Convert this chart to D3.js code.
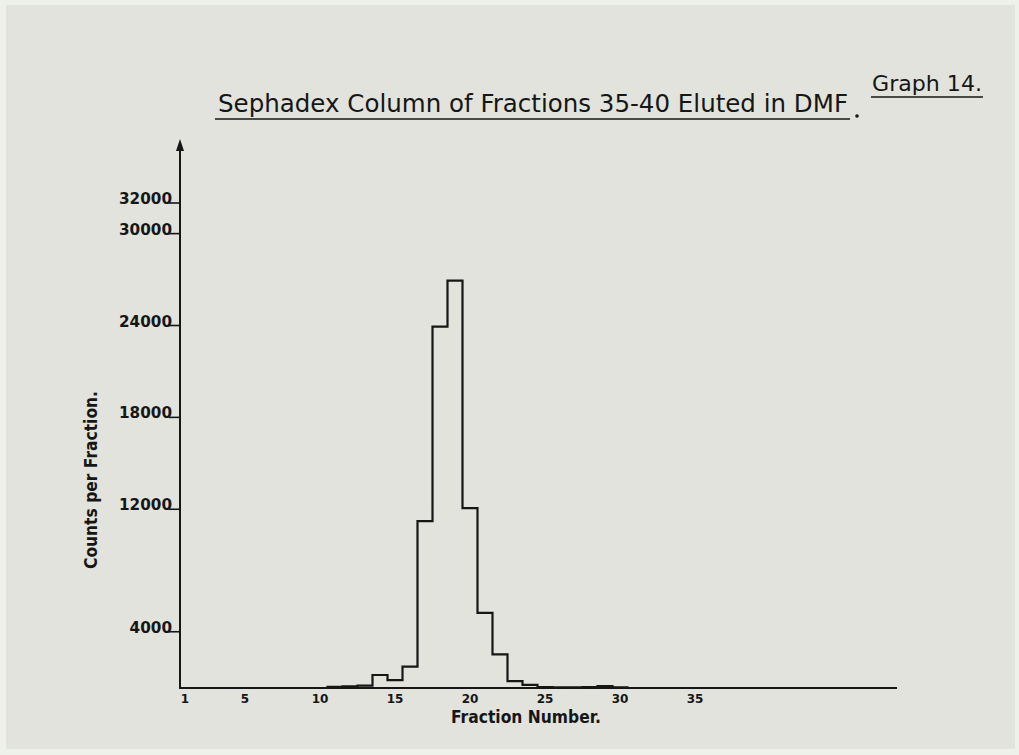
<!DOCTYPE html>
<html>
<head>
<meta charset="utf-8">
<script src="https://cdn.jsdelivr.net/npm/d3@7"></script>
<style>
  body { margin: 0; background: #e9eae5; }
  svg { display: block; }
</style>
</head>
<body>
<div id="container"></div>
<script>
let w = 1019;
let h = 755;

// DATA
let fractions = [11, 12, 13, 14, 15, 16, 17, 18, 19, 20, 21, 22, 23, 24, 25, 26, 27, 28, 29, 30];
let counts = [80, 100, 150, 850, 520, 1400, 10900, 23600, 26600, 11750, 4900, 2200, 450, 200, 60, 50, 40, 60, 120, 50];
let yTicks = [4000, 12000, 18000, 24000, 30000, 32000];
let xTicks = [1, 5, 10, 15, 20, 25, 30, 35];

let viz = d3.select("#container").append("svg")
    .attr("width", w)
    .attr("height", h)
;

// paper
viz.append("rect")
  .attr("x", 0).attr("y", 0)
  .attr("width", w).attr("height", h)
  .attr("fill", "#eef0ea");
viz.append("rect")
  .attr("x", 6).attr("y", 5)
  .attr("width", w - 10).attr("height", h - 11)
  .attr("fill", "#e1e3dc");

// SCALES
let xScale = d3.scaleLinear().domain([1, 35]).range([185, 695]);
let yScale = d3.scaleLinear().domain([0, 32000]).range([688, 198]);

let ink = "#161616";

// axes
viz.append("line")
  .attr("x1", 180).attr("x2", 897)
  .attr("y1", yScale(0)).attr("y2", yScale(0))
  .attr("stroke", ink).attr("stroke-width", 2);
viz.append("line")
  .attr("x1", 180).attr("x2", 180)
  .attr("y1", yScale(0) + 1).attr("y2", 146)
  .attr("stroke", ink).attr("stroke-width", 2);
viz.append("path")
  .attr("d", "M180,139 L176,151 L184,151 Z")
  .attr("fill", ink);

// y tick labels
let yt = viz.selectAll(".ytick").data(yTicks).enter()
  .append("g")
    .attr("class", "ytick")
    .attr("transform", function(d){ return "translate(0," + yScale(d) + ")"; });
yt.append("text")
  .text(function(d){ return d; })
  .attr("x", 172)
  .attr("y", 6)
  .attr("text-anchor", "end")
  .style("font-family", "DejaVu Sans")
  .style("font-weight", "bold")
  .style("font-size", "15px")
  .attr("lengthAdjust", "spacingAndGlyphs")
  .attr("textLength", function(d){ return String(d).length * 10.6; })
  .attr("fill", ink);
yt.append("line")
  .attr("x1", 169).attr("x2", 180)
  .attr("y1", 5).attr("y2", 5)
  .attr("stroke", ink).attr("stroke-width", 1.6);

// x tick labels
viz.selectAll(".xtick").data(xTicks).enter()
  .append("text")
    .attr("class", "xtick")
    .text(function(d){ return d; })
    .attr("x", function(d){ return xScale(d); })
    .attr("y", 703)
    .attr("text-anchor", "middle")
    .style("font-family", "DejaVu Sans")
    .style("font-weight", "bold")
    .style("font-size", "12px")
    .attr("fill", ink);

// histogram outline
let stepPoints = [[fractions[0] - 0.5, 0]];
fractions.forEach(function(f, i){
  stepPoints.push([f - 0.5, counts[i]]);
  stepPoints.push([f + 0.5, counts[i]]);
});
stepPoints.push([fractions[fractions.length - 1] + 0.5, 0]);

let lineMaker = d3.line()
    .x(function(d){ return xScale(d[0]); })
    .y(function(d){ return yScale(d[1]); })
;
viz.append("path")
  .attr("d", lineMaker(stepPoints))
  .attr("fill", "none")
  .attr("stroke", ink)
  .attr("stroke-width", 2.2)
  .attr("stroke-linejoin", "miter");

// axis titles
viz.append("text")
  .text("Fraction  Number.")
  .attr("x", 526)
  .attr("y", 723)
  .attr("text-anchor", "middle")
  .style("font-family", "DejaVu Sans")
  .style("font-weight", "bold")
  .style("font-size", "18px")
  .attr("lengthAdjust", "spacingAndGlyphs")
  .attr("textLength", 150)
  .attr("fill", ink);

viz.append("text")
  .text("Counts per  Fraction.")
  .attr("transform", "translate(97,480) rotate(-90)")
  .attr("text-anchor", "middle")
  .style("font-family", "DejaVu Sans")
  .style("font-weight", "bold")
  .style("font-size", "18px")
  .attr("lengthAdjust", "spacingAndGlyphs")
  .attr("textLength", 178)
  .attr("fill", ink);

// title
viz.append("text")
  .text("Sephadex Column of Fractions 35-40 Eluted in DMF")
  .attr("x", 218)
  .attr("y", 112)
  .style("font-family", "DejaVu Sans")
  .style("font-size", "25px")
  .attr("lengthAdjust", "spacingAndGlyphs")
  .attr("textLength", 630)
  .attr("fill", ink);
viz.append("line")
  .attr("x1", 215).attr("x2", 850)
  .attr("y1", 119).attr("y2", 119)
  .attr("stroke", ink).attr("stroke-width", 1.6);
viz.append("circle")
  .attr("cx", 857).attr("cy", 116).attr("r", 1.8)
  .attr("fill", ink);

viz.append("text")
  .text("Graph 14.")
  .attr("x", 872)
  .attr("y", 91)
  .style("font-family", "DejaVu Sans")
  .style("font-size", "22px")
  .attr("lengthAdjust", "spacingAndGlyphs")
  .attr("textLength", 110)
  .attr("fill", ink);
viz.append("line")
  .attr("x1", 871).attr("x2", 983)
  .attr("y1", 97).attr("y2", 97)
  .attr("stroke", ink).attr("stroke-width", 1.6);
</script>
</body>
</html>
